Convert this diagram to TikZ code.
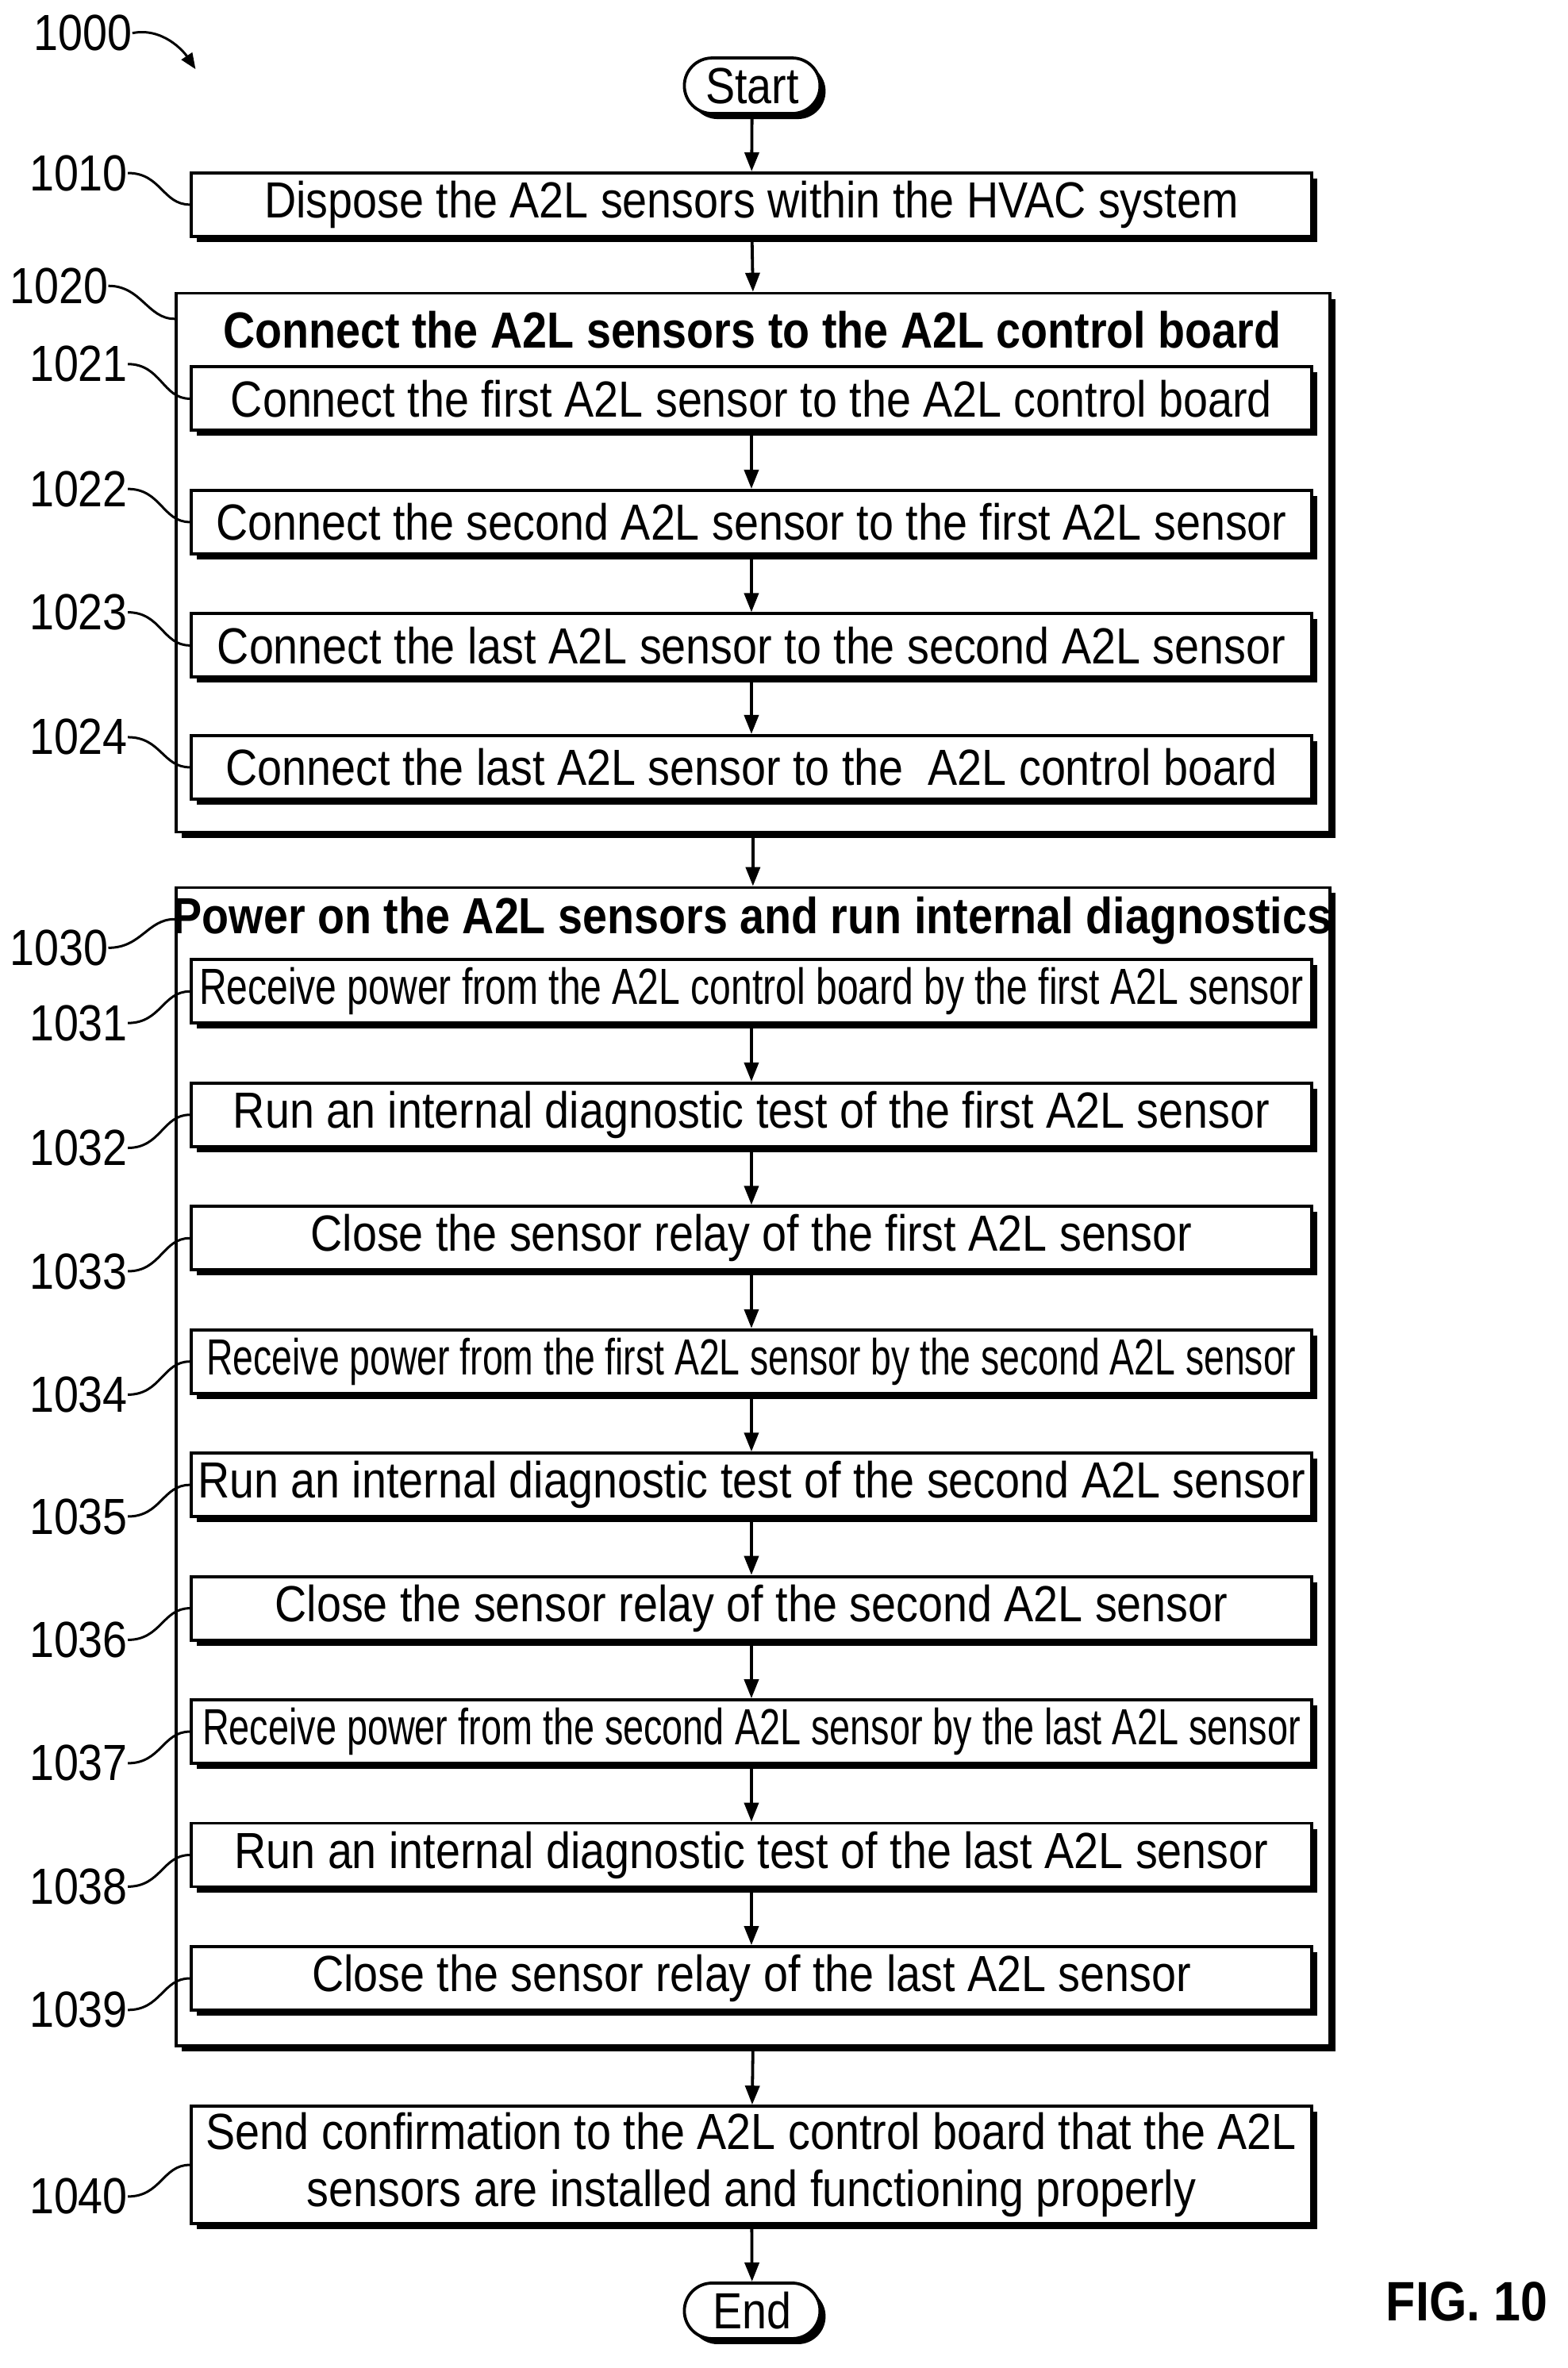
\documentclass[tikz,border=0pt]{standalone}
\usepackage{fontspec}
\setmainfont[FakeStretch=0.87]{Liberation Sans}
\usetikzlibrary{shapes.misc,shadows,arrows.meta,calc}
\tikzset{
  shd/.style={drop shadow={shadow xshift=7pt,shadow yshift=-7pt,fill=black,opacity=1}},
  stepbox/.style={draw,line width=3.8pt,fill=white,shd,minimum width=1412pt,minimum height=80pt,inner sep=0pt,font=\fontsize{64}{72}\selectfont},
  outerbox/.style={draw,line width=3.8pt,fill=white,shd,minimum width=1454pt,inner sep=0pt},
  term/.style={draw,line width=3.8pt,fill=white,shd,rounded rectangle,minimum width=171pt,minimum height=70pt,inner sep=0pt,font=\fontsize{64}{72}\selectfont},
  lab/.style={anchor=east,inner sep=0pt,font=\fontsize{64}{72}\selectfont},
  ttl/.style={inner sep=0pt,font=\bfseries\fontsize{64}{72}\selectfont},
  arr/.style={line width=3.8pt,-{Triangle[length=24pt,width=18pt]}},
  sq/.style={line width=3pt},
}
\newcommand{\nar}[2]{\resizebox{#1pt}{\height}{#2}}
\begin{document}
\begin{tikzpicture}[x=1.896pt,y=-1.896pt]
\useasboundingbox[fill=white] (0,0) rectangle (1042,1574);
\node[lab] (l1000) at (88,22) {1000};
\draw[sq,-{Triangle[length=20pt,width=16pt]}] (l1000.east) .. controls +(20,-4) and +(-8,-12) .. (130,46);
\node[term] (start) at (500,57) {Start};
\node[stepbox] (b1010) at (499.5,136) {Dispose the A2L sensors within the HVAC system};
\node[outerbox,minimum height=679pt] (o1020) at (500.5,374) {};
\node[ttl] (t1020) at (500,219) {Connect the A2L sensors to the A2L control board};
\node[stepbox] (b1021) at (499.5,265) {Connect the first A2L sensor to the A2L control board};
\node[stepbox] (b1022) at (499.5,347) {Connect the second A2L sensor to the first A2L sensor};
\node[stepbox] (b1023) at (499.5,429) {Connect the last A2L sensor to the second A2L sensor};
\node[stepbox] (b1024) at (499.5,510) {Connect the last A2L sensor to the \ A2L control board};
\node[outerbox,minimum height=1460pt] (o1030) at (500.5,975) {};
\node[ttl] (t1030) at (500,612) {Power on the A2L sensors and run internal diagnostics};
\node[stepbox] (b1031) at (499.5,659) {\nar{1392}{Receive power from the A2L control board by the first A2L sensor}};
\node[stepbox] (b1032) at (499.5,741) {Run an internal diagnostic test of the first A2L sensor};
\node[stepbox] (b1033) at (499.5,823) {Close the sensor relay of the first A2L sensor};
\node[stepbox] (b1034) at (499.5,905) {\nar{1373}{Receive power from the first A2L sensor by the second A2L sensor}};
\node[stepbox] (b1035) at (499.5,987) {Run an internal diagnostic test of the second A2L sensor};
\node[stepbox] (b1036) at (499.5,1069) {Close the sensor relay of the second A2L sensor};
\node[stepbox] (b1037) at (499.5,1151) {\nar{1384}{Receive power from the second A2L sensor by the last A2L sensor}};
\node[stepbox] (b1038) at (499.5,1233) {Run an internal diagnostic test of the last A2L sensor};
\node[stepbox] (b1039) at (499.5,1315) {Close the sensor relay of the last A2L sensor};
\node[stepbox,minimum height=148pt,align=center] (b1040) at (499.5,1439) {Send confirmation to the A2L control board that the A2L\\sensors are installed and functioning properly};
\node[term] (end) at (500,1536) {End};
\node[inner sep=0pt,font=\bfseries\fontsize{70}{80}\selectfont] (fig) at (975,1530) {FIG. 10};
% arrows
\draw[arr] (start) -- (b1010);
\draw[arr] (b1010) -- (o1020.north);
\draw[arr] (b1021) -- (b1022);
\draw[arr] (b1022) -- (b1023);
\draw[arr] (b1023) -- (b1024);
\draw[arr] (o1020.south) -- (o1030.north);
\foreach \a/\b in {1031/1032,1032/1033,1033/1034,1034/1035,1035/1036,1036/1037,1037/1038,1038/1039}
  \draw[arr] (b\a) -- (b\b);
\draw[arr] (o1030.south) -- (b1040);
\draw[arr] (b1040) -- (end);
% labels
\node[lab] (l1010) at (85,115) {1010};
\draw[sq] (l1010.east) .. controls +(22,0) and +(-18,0) .. (b1010.west);
\node[lab] (l1020) at (72,190) {1020};
\draw[sq] (l1020.east) .. controls +(22,0) and +(-18,0) .. ($(o1020.north west)+(0,18)$);
\foreach \n/\y in {1021/242,1022/325,1023/407,1024/490}{
  \node[lab] (l\n) at (85,\y) {\n};
  \draw[sq] (l\n.east) .. controls +(22,0) and +(-18,0) .. (b\n.west);
}
\node[lab] (l1030) at (72,630) {1030};
\draw[sq] (l1030.east) .. controls +(22,0) and +(-18,0) .. ($(o1030.north west)+(0,22)$);
\foreach \n/\y in {1031/680,1032/763,1033/845,1034/927,1035/1008,1036/1090,1037/1172,1038/1254,1039/1336,1040/1460}{
  \node[lab] (l\n) at (85,\y) {\n};
  \draw[sq] (l\n.east) .. controls +(22,0) and +(-18,0) .. (b\n.west);
}
\end{tikzpicture}
\end{document}
